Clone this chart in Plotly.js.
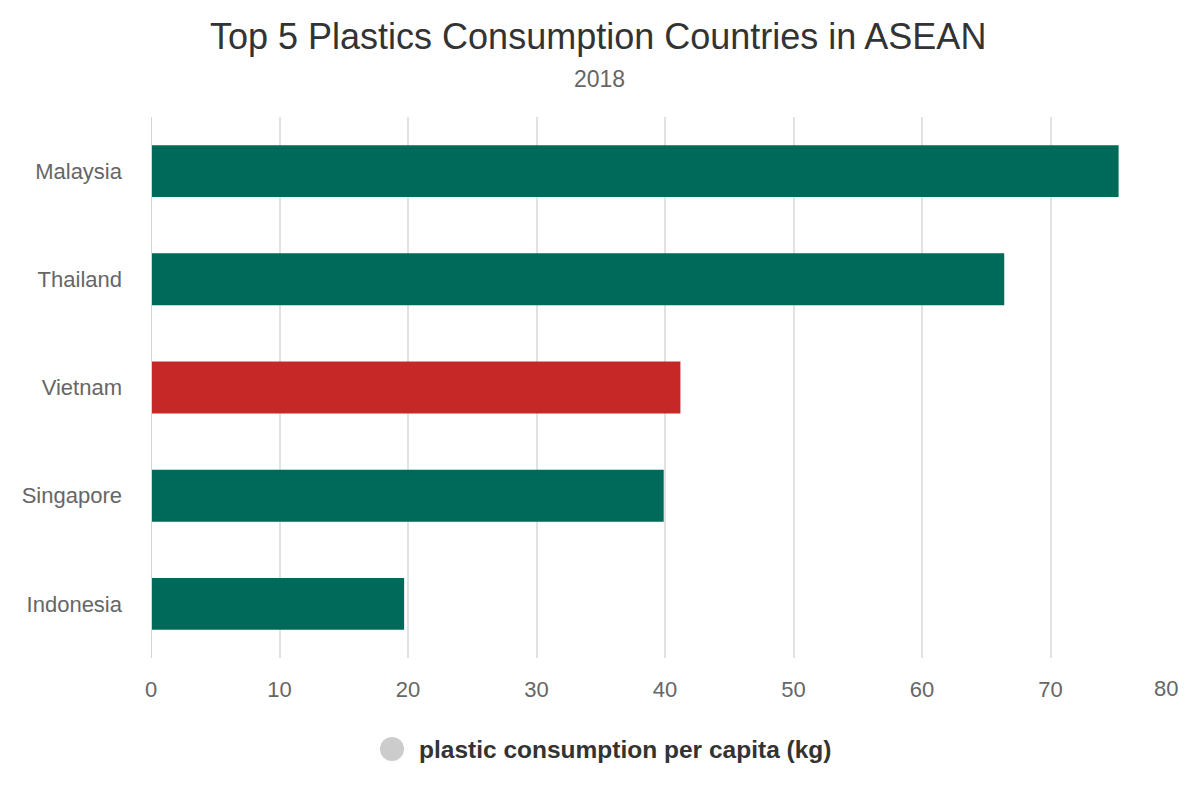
<!DOCTYPE html>
<html>
<head>
<meta charset="utf-8">
<script src="https://cdn.plot.ly/plotly-3.0.1.min.js"></script>
<style>html,body{margin:0;padding:0;background:#fff;}#chart{width:1200px;height:800px;}</style>
</head>
<body>
<div id="chart"></div>
<script>
const countries = ["Indonesia", "Singapore", "Vietnam", "Thailand", "Malaysia"];
const values = [19.7, 39.9, 41.2, 66.4, 75.3];
const barColors = ["#006a5a", "#006a5a", "#c62828", "#006a5a", "#006a5a"];
const seriesName = "plastic consumption per capita (kg)";
const titleText = "Top 5 Plastics Consumption Countries in ASEAN";
const subtitleText = "2018";
const xTicks = [0, 10, 20, 30, 40, 50, 60, 70, 80];

const font = "Liberation Sans, Arial, sans-serif";
const lastTick = xTicks[xTicks.length - 1];

const traces = [
  {
    type: "bar",
    orientation: "h",
    y: countries,
    x: values,
    marker: {color: barColors},
    showlegend: false,
    hoverinfo: "x+y"
  }
];

// page x (px) -> paper fraction
const px = v => (v - 151) / 1028;
const py = v => (658 - v) / 541;

const layout = {
  width: 1200,
  height: 800,
  paper_bgcolor: "#ffffff",
  plot_bgcolor: "#ffffff",
  margin: {l: 151, r: 21, t: 117, b: 142},
  bargap: 0.52,
  showlegend: false,
  xaxis: {
    range: [0, lastTick],
    tickvals: xTicks,
    ticktext: xTicks.map(t => t === lastTick ? "" : String(t)),
    showgrid: true,
    gridcolor: "#e2e2e2",
    gridwidth: 2,
    zeroline: false,
    showline: false,
    ticks: "",
    tickfont: {family: font, size: 22, color: "#666666"},
    ticklabelstandoff: 16,
    fixedrange: true
  },
  yaxis: {
    categoryorder: "array",
    categoryarray: countries,
    showgrid: false,
    zeroline: false,
    showline: false,
    ticks: "",
    tickfont: {family: font, size: 22, color: "#666666"},
    ticklabelstandoff: 28,
    fixedrange: true
  },
  shapes: [
    {type: "line", xref: "x", yref: "paper", x0: 0, x1: 0, y0: 0, y1: 1,
     line: {color: "#ccd6dd", width: 2}},
    {type: "circle", xref: "paper", yref: "paper",
     x0: px(380), x1: px(404), y0: py(737), y1: py(761),
     fillcolor: "#cccccc", line: {width: 0}}
  ],
  annotations: [
    {text: titleText, xref: "paper", yref: "paper", x: px(598), xanchor: "center",
     y: py(36), yanchor: "middle", showarrow: false,
     font: {family: font, size: 36, color: "#333333"}},
    {text: subtitleText, xref: "paper", yref: "paper", x: px(599), xanchor: "center",
     y: py(79), yanchor: "middle", showarrow: false,
     font: {family: font, size: 23, color: "#666666"}},
    {text: "<b>" + seriesName + "</b>", xref: "paper", yref: "paper",
     x: px(417), xanchor: "left",
     y: py(749), yanchor: "middle", showarrow: false,
     font: {family: font, size: 24.5, color: "#333333"}},
    {text: String(lastTick), xref: "x", yref: "paper", x: lastTick, xanchor: "center",
     xshift: -13, y: py(688), yanchor: "middle", showarrow: false,
     font: {family: font, size: 22, color: "#666666"}}
  ]
};

Plotly.newPlot("chart", traces, layout, {displayModeBar: false, staticPlot: true});
</script>
</body>
</html>
